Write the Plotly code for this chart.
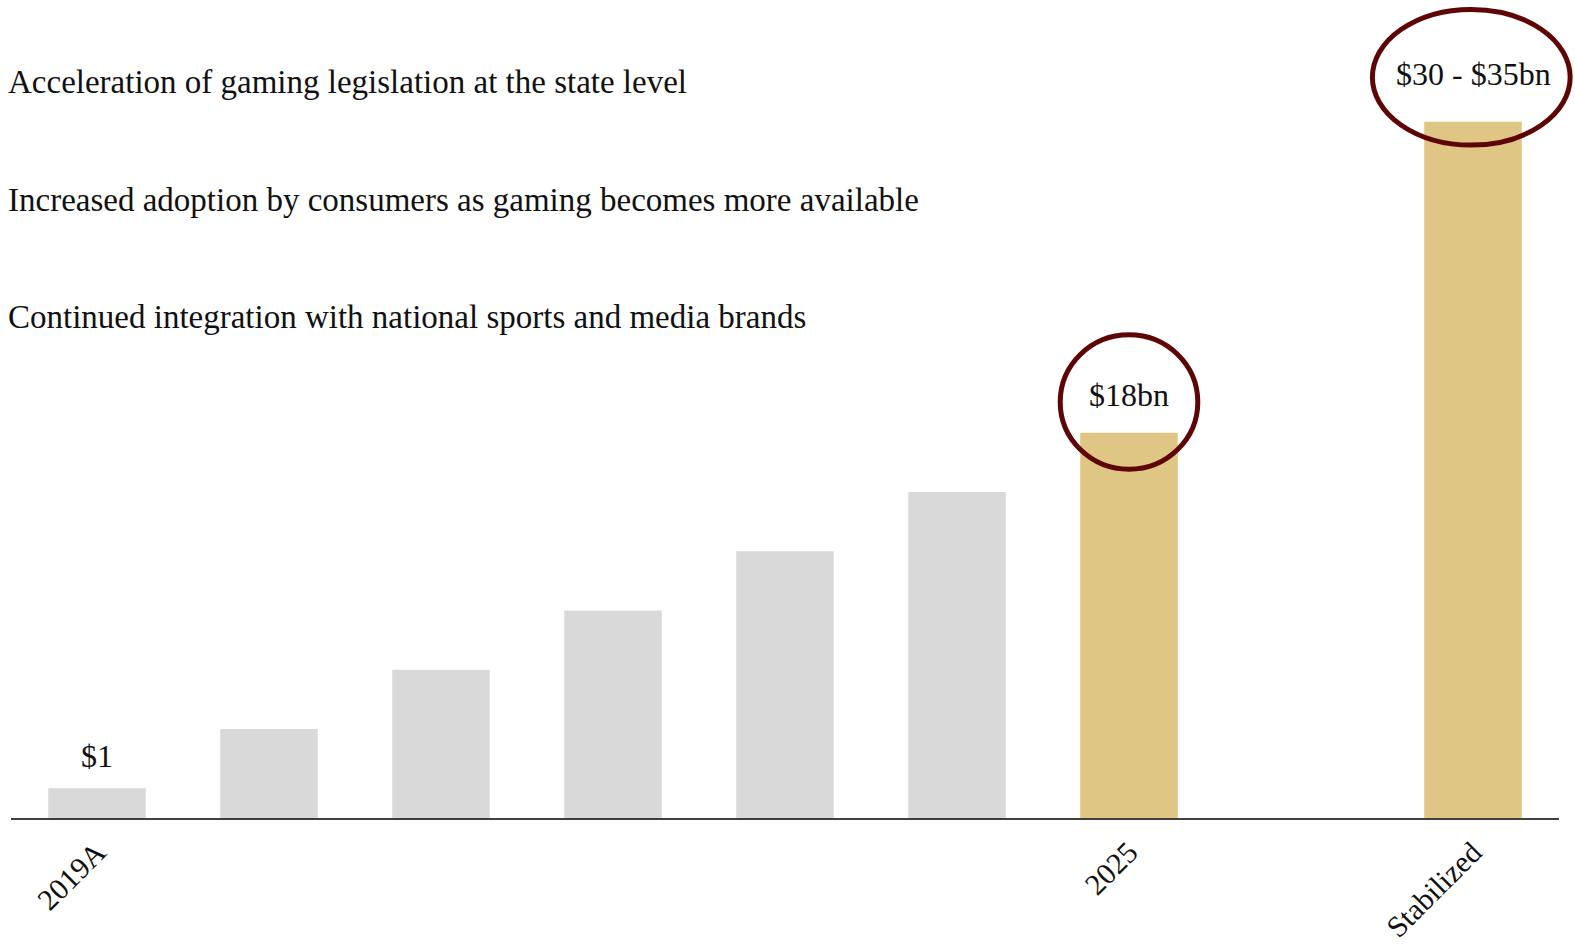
import plotly.graph_objects as go

# Data
positions = [0, 1, 2, 3, 4, 5, 6, 8]
values = [1, 3, 5, 7, 9, 11, 13, 23.5]
highlight = [False, False, False, False, False, False, True, True]
tick_positions = [0, 6, 8]
tick_labels = ["2019A", "2025", "Stabilized"]
bar_labels = {0: "$1", 6: "$18bn", 8: "$30 - $35bn"}
bullets = [
    "Acceleration of gaming legislation at the state level",
    "Increased adoption by consumers as gaming becomes more available",
    "Continued integration with national sports and media brands",
]

GRAY = "#D9D9D9"
GOLD = "#E0C685"
RED = "#5E0606"
FONT = "Liberation Serif"

PLOT_W = 1548
PLOT_H = 818
PX_PER_UNIT = 29.63
X_RANGE = [-0.5, 8.5]
Y_RANGE = [0, PLOT_H / PX_PER_UNIT]


def to_paper(x, y):
    return ((x - X_RANGE[0]) / (X_RANGE[1] - X_RANGE[0]),
            (y - Y_RANGE[0]) / (Y_RANGE[1] - Y_RANGE[0]))


colors = [GOLD if h else GRAY for h in highlight]

fig = go.Figure()
fig.add_trace(go.Bar(x=positions, y=values, marker=dict(color=colors, line=dict(width=0)),
                     width=0.567, hoverinfo="skip"))

# value labels
label_shift = {0: 32, 6: 38, 8: 48}
for p, txt in bar_labels.items():
    v = values[positions.index(p)]
    fig.add_annotation(x=p, y=v, text=txt, showarrow=False, yanchor="middle",
                       yshift=label_shift[p], font=dict(family=FONT, size=32, color="#111111"))


# circles around highlighted labels (paper refs so they are not clipped)
def ring(cx, cy, rx, ry):
    x0, y0 = to_paper(cx - rx, cy - ry)
    x1, y1 = to_paper(cx + rx, cy + ry)
    fig.add_shape(type="circle", xref="paper", yref="paper", x0=x0, x1=x1, y0=y0, y1=y1,
                  line=dict(color=RED, width=5))


ring(6, values[6] + 1.04, 0.40, 2.27)
ring(8 - 0.01, values[7] + 1.5, 0.575, 2.29)

# bullet texts
for i, t in enumerate(bullets):
    ypix = 82.4 + i * 117.5
    fig.add_annotation(xref="paper", yref="paper", x=-5 / PLOT_W, y=(PLOT_H - ypix) / PLOT_H,
                       text=t, showarrow=False, xanchor="left", yanchor="middle",
                       font=dict(family=FONT, size=33, color="#111111"))

fig.update_layout(
    width=1575, height=950,
    margin=dict(l=11, r=1575 - 11 - PLOT_W, t=0, b=950 - PLOT_H, autoexpand=False),
    plot_bgcolor="white", paper_bgcolor="white",
    showlegend=False,
    xaxis=dict(range=X_RANGE, tickvals=tick_positions, ticktext=tick_labels,
               tickangle=-45, tickfont=dict(family=FONT, size=30, color="#111111"),
               showgrid=False, zeroline=False, showline=True, linecolor="#404040", linewidth=1.5,
               ticks="outside", ticklen=3, tickcolor="rgba(0,0,0,0)", automargin=False),
    yaxis=dict(range=Y_RANGE, visible=False, showgrid=False, automargin=False),
)

fig.write_html("out.html")
